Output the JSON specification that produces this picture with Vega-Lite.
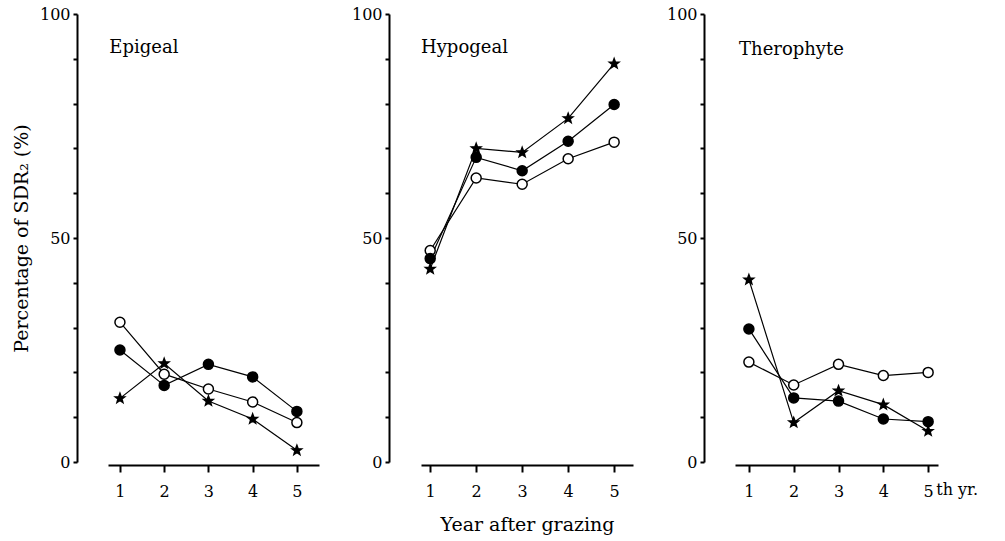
{
  "$schema": "https://vega.github.io/schema/vega-lite/v6.json",
  "background": "white",
  "padding": {"left": 12, "top": 6, "right": 5, "bottom": 5},
  "bounds": "flush",
  "spacing": 102,
  "config": {
    "view": {"stroke": null},
    "font": "DejaVu Serif",
    "axis": {
      "domainColor": "black",
      "domainWidth": 2,
      "tickColor": "black",
      "tickWidth": 2,
      "labelColor": "black",
      "titleColor": "black",
      "labelFontSize": 16,
      "titleFontSize": 19,
      "titleFontWeight": "normal",
      "grid": false
    }
  },
  "datasets": {
    "sdr": [
      {"panel": "Epigeal", "series": "open", "year": 1, "pct": 31.2},
      {"panel": "Epigeal", "series": "open", "year": 2, "pct": 19.6},
      {"panel": "Epigeal", "series": "open", "year": 3, "pct": 16.3},
      {"panel": "Epigeal", "series": "open", "year": 4, "pct": 13.4},
      {"panel": "Epigeal", "series": "open", "year": 5, "pct": 8.8},
      {"panel": "Epigeal", "series": "filled", "year": 1, "pct": 25.0},
      {"panel": "Epigeal", "series": "filled", "year": 2, "pct": 17.1},
      {"panel": "Epigeal", "series": "filled", "year": 3, "pct": 21.8},
      {"panel": "Epigeal", "series": "filled", "year": 4, "pct": 19.0},
      {"panel": "Epigeal", "series": "filled", "year": 5, "pct": 11.3},
      {"panel": "Epigeal", "series": "star", "year": 1, "pct": 14.2},
      {"panel": "Epigeal", "series": "star", "year": 2, "pct": 22.0},
      {"panel": "Epigeal", "series": "star", "year": 3, "pct": 13.6},
      {"panel": "Epigeal", "series": "star", "year": 4, "pct": 9.6},
      {"panel": "Epigeal", "series": "star", "year": 5, "pct": 2.6},
      {"panel": "Hypogeal", "series": "open", "year": 1, "pct": 47.2},
      {"panel": "Hypogeal", "series": "open", "year": 2, "pct": 63.4},
      {"panel": "Hypogeal", "series": "open", "year": 3, "pct": 62.0},
      {"panel": "Hypogeal", "series": "open", "year": 4, "pct": 67.7},
      {"panel": "Hypogeal", "series": "open", "year": 5, "pct": 71.4},
      {"panel": "Hypogeal", "series": "filled", "year": 1, "pct": 45.4},
      {"panel": "Hypogeal", "series": "filled", "year": 2, "pct": 68.0},
      {"panel": "Hypogeal", "series": "filled", "year": 3, "pct": 65.0},
      {"panel": "Hypogeal", "series": "filled", "year": 4, "pct": 71.6},
      {"panel": "Hypogeal", "series": "filled", "year": 5, "pct": 79.8},
      {"panel": "Hypogeal", "series": "star", "year": 1, "pct": 43.1},
      {"panel": "Hypogeal", "series": "star", "year": 2, "pct": 70.0},
      {"panel": "Hypogeal", "series": "star", "year": 3, "pct": 69.1},
      {"panel": "Hypogeal", "series": "star", "year": 4, "pct": 76.7},
      {"panel": "Hypogeal", "series": "star", "year": 5, "pct": 88.9},
      {"panel": "Therophyte", "series": "open", "year": 1, "pct": 22.3},
      {"panel": "Therophyte", "series": "open", "year": 2, "pct": 17.2},
      {"panel": "Therophyte", "series": "open", "year": 3, "pct": 21.8},
      {"panel": "Therophyte", "series": "open", "year": 4, "pct": 19.3},
      {"panel": "Therophyte", "series": "open", "year": 5, "pct": 20.0},
      {"panel": "Therophyte", "series": "filled", "year": 1, "pct": 29.7},
      {"panel": "Therophyte", "series": "filled", "year": 2, "pct": 14.3},
      {"panel": "Therophyte", "series": "filled", "year": 3, "pct": 13.6},
      {"panel": "Therophyte", "series": "filled", "year": 4, "pct": 9.6},
      {"panel": "Therophyte", "series": "filled", "year": 5, "pct": 9.0},
      {"panel": "Therophyte", "series": "star", "year": 1, "pct": 40.7},
      {"panel": "Therophyte", "series": "star", "year": 2, "pct": 8.8},
      {"panel": "Therophyte", "series": "star", "year": 3, "pct": 15.9},
      {"panel": "Therophyte", "series": "star", "year": 4, "pct": 12.8},
      {"panel": "Therophyte", "series": "star", "year": 5, "pct": 6.9}
    ],
    "labels": [
      {"panel": "Epigeal", "year": 0.76, "pct": 92.5, "text": "Epigeal"},
      {"panel": "Hypogeal", "year": 0.8, "pct": 92.5, "text": "Hypogeal"},
      {"panel": "Therophyte", "year": 0.78, "pct": 92.0, "text": "Therophyte"}
    ],
    "unit": [
      {"year": 5.18, "pct": -6.3, "text": "th yr."}
    ]
  },
  "hconcat": [
    {
      "width": 211,
      "height": 448,
      "layer": [
        {
          "data": {"name": "sdr"},
          "transform": [{"filter": "datum.panel == 'Epigeal'"}],
          "mark": {"type": "line", "color": "black", "strokeWidth": 1.2},
          "encoding": {
            "x": {"field": "year", "type": "quantitative", "scale": {"domain": [0.73, 5.5], "nice": false, "zero": false},
              "axis": {"values": [1, 2, 3, 4, 5], "title": null, "offset": 3, "tickSize": 7, "labelPadding": 11}},
            "y": {"field": "pct", "type": "quantitative", "scale": {"domain": [0, 100], "nice": false},
              "axis": {"values": [0, 10, 20, 30, 40, 50, 60, 70, 80, 90, 100], "labelExpr": "datum.value % 50 == 0 ? datum.label : ''",
                "offset": 31, "tickSize": 4, "labelPadding": 3, "title": "Percentage of SDR₂ (%)", "titlePadding": 8}},
            "detail": {"field": "series", "type": "nominal"}
          }
        },
        {
          "data": {"name": "sdr"},
          "transform": [{"filter": "datum.panel == 'Epigeal'"}],
          "mark": {"type": "point", "filled": true, "stroke": "black", "strokeWidth": 1.5, "opacity": 1},
          "encoding": {
            "x": {"field": "year", "type": "quantitative"},
            "y": {"field": "pct", "type": "quantitative"},
            "shape": {"field": "series", "type": "nominal", "scale": {"domain": ["open", "filled", "star"], "range": ["circle", "circle", "M0,-1L0.247,-0.34L0.951,-0.309L0.399,0.13L0.588,0.809L0,0.42L-0.588,0.809L-0.399,0.13L-0.951,-0.309L-0.247,-0.34Z"]}, "legend": null},
            "fill": {"field": "series", "type": "nominal", "scale": {"domain": ["open", "filled", "star"], "range": ["white", "black", "black"]}, "legend": null},
            "size": {"field": "series", "type": "nominal", "scale": {"domain": ["open", "filled", "star"], "range": [100, 100, 420]}, "legend": null}
          }
        },
        {
          "data": {"name": "labels"},
          "transform": [{"filter": "datum.panel == 'Epigeal'"}],
          "mark": {"type": "text", "align": "left", "baseline": "middle", "fontSize": 18, "color": "black"},
          "encoding": {
            "x": {"field": "year", "type": "quantitative"},
            "y": {"field": "pct", "type": "quantitative"},
            "text": {"field": "text", "type": "nominal"}
          }
        }
      ]
    },
    {
      "width": 212,
      "height": 448,
      "layer": [
        {
          "data": {"name": "sdr"},
          "transform": [{"filter": "datum.panel == 'Hypogeal'"}],
          "mark": {"type": "line", "color": "black", "strokeWidth": 1.2},
          "encoding": {
            "x": {"field": "year", "type": "quantitative", "scale": {"domain": [0.8, 5.41], "nice": false, "zero": false},
              "axis": {"values": [1, 2, 3, 4, 5], "title": "Year after grazing", "offset": 3, "tickSize": 7, "labelPadding": 11, "titlePadding": 16}},
            "y": {"field": "pct", "type": "quantitative", "scale": {"domain": [0, 100], "nice": false},
              "axis": {"values": [0, 10, 20, 30, 40, 50, 60, 70, 80, 90, 100], "labelExpr": "datum.value % 50 == 0 ? datum.label : ''",
                "offset": 32, "tickSize": 4, "labelPadding": 3, "title": null}},
            "detail": {"field": "series", "type": "nominal"}
          }
        },
        {
          "data": {"name": "sdr"},
          "transform": [{"filter": "datum.panel == 'Hypogeal'"}],
          "mark": {"type": "point", "filled": true, "stroke": "black", "strokeWidth": 1.5, "opacity": 1},
          "encoding": {
            "x": {"field": "year", "type": "quantitative"},
            "y": {"field": "pct", "type": "quantitative"},
            "shape": {"field": "series", "type": "nominal", "scale": {"domain": ["open", "filled", "star"], "range": ["circle", "circle", "M0,-1L0.247,-0.34L0.951,-0.309L0.399,0.13L0.588,0.809L0,0.42L-0.588,0.809L-0.399,0.13L-0.951,-0.309L-0.247,-0.34Z"]}, "legend": null},
            "fill": {"field": "series", "type": "nominal", "scale": {"domain": ["open", "filled", "star"], "range": ["white", "black", "black"]}, "legend": null},
            "size": {"field": "series", "type": "nominal", "scale": {"domain": ["open", "filled", "star"], "range": [100, 100, 420]}, "legend": null}
          }
        },
        {
          "data": {"name": "labels"},
          "transform": [{"filter": "datum.panel == 'Hypogeal'"}],
          "mark": {"type": "text", "align": "left", "baseline": "middle", "fontSize": 18, "color": "black"},
          "encoding": {
            "x": {"field": "year", "type": "quantitative"},
            "y": {"field": "pct", "type": "quantitative"},
            "text": {"field": "text", "type": "nominal"}
          }
        }
      ]
    },
    {
      "width": 203,
      "height": 448,
      "layer": [
        {
          "data": {"name": "sdr"},
          "transform": [{"filter": "datum.panel == 'Therophyte'"}],
          "mark": {"type": "line", "color": "black", "strokeWidth": 1.2},
          "encoding": {
            "x": {"field": "year", "type": "quantitative", "scale": {"domain": [0.69, 5.22], "nice": false, "zero": false},
              "axis": {"values": [1, 2, 3, 4, 5], "title": null, "offset": 3, "tickSize": 7, "labelPadding": 11}},
            "y": {"field": "pct", "type": "quantitative", "scale": {"domain": [0, 100], "nice": false},
              "axis": {"values": [0, 10, 20, 30, 40, 50, 60, 70, 80, 90, 100], "labelExpr": "datum.value % 50 == 0 ? datum.label : ''",
                "offset": 31, "tickSize": 4, "labelPadding": 3, "title": null}},
            "detail": {"field": "series", "type": "nominal"}
          }
        },
        {
          "data": {"name": "sdr"},
          "transform": [{"filter": "datum.panel == 'Therophyte'"}],
          "mark": {"type": "point", "filled": true, "stroke": "black", "strokeWidth": 1.5, "opacity": 1},
          "encoding": {
            "x": {"field": "year", "type": "quantitative"},
            "y": {"field": "pct", "type": "quantitative"},
            "shape": {"field": "series", "type": "nominal", "scale": {"domain": ["open", "filled", "star"], "range": ["circle", "circle", "M0,-1L0.247,-0.34L0.951,-0.309L0.399,0.13L0.588,0.809L0,0.42L-0.588,0.809L-0.399,0.13L-0.951,-0.309L-0.247,-0.34Z"]}, "legend": null},
            "fill": {"field": "series", "type": "nominal", "scale": {"domain": ["open", "filled", "star"], "range": ["white", "black", "black"]}, "legend": null},
            "size": {"field": "series", "type": "nominal", "scale": {"domain": ["open", "filled", "star"], "range": [100, 100, 420]}, "legend": null}
          }
        },
        {
          "data": {"name": "labels"},
          "transform": [{"filter": "datum.panel == 'Therophyte'"}],
          "mark": {"type": "text", "align": "left", "baseline": "middle", "fontSize": 18, "color": "black"},
          "encoding": {
            "x": {"field": "year", "type": "quantitative"},
            "y": {"field": "pct", "type": "quantitative"},
            "text": {"field": "text", "type": "nominal"}
          }
        },
        {
          "data": {"name": "unit"},
          "mark": {"type": "text", "align": "left", "baseline": "middle", "fontSize": 16, "color": "black"},
          "encoding": {
            "x": {"field": "year", "type": "quantitative"},
            "y": {"field": "pct", "type": "quantitative"},
            "text": {"field": "text", "type": "nominal"}
          }
        }
      ]
    }
  ]
}
